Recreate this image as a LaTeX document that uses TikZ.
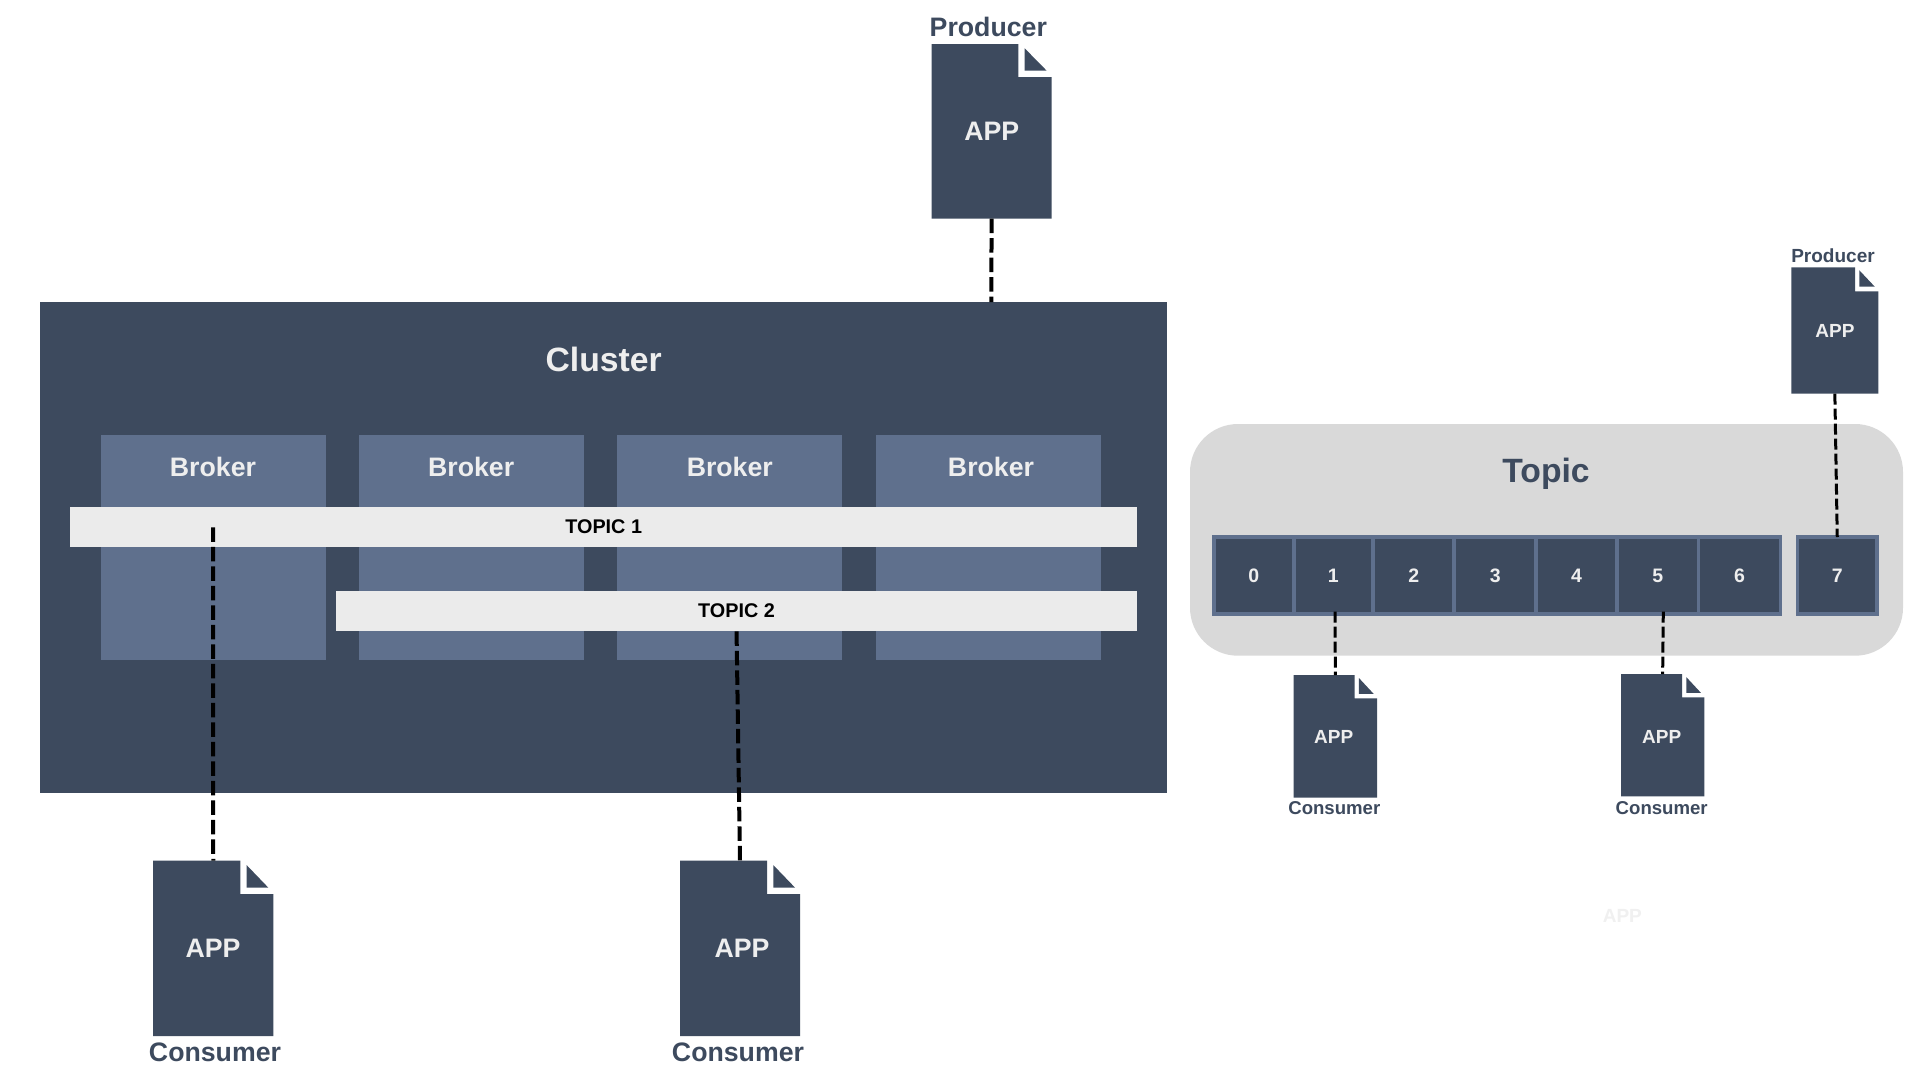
\documentclass[tikz,border=0pt]{standalone}
\usepackage{fontspec}
\setmainfont{Liberation Sans}
\definecolor{navy}{HTML}{3D4A5E}
\definecolor{slate}{HTML}{5F708D}
\definecolor{paper}{HTML}{EBEBEB}
\definecolor{ink}{HTML}{EEEEEE}
\definecolor{panel}{HTML}{D9D9D9}
\newcommand{\szfont}[1]{\fontsize{#1}{#1}\bfseries\selectfont}
\tikzset{
  box/.style={rectangle,inner sep=0pt,outer sep=0pt},
  txt/.style={inner sep=0pt,outer sep=0pt,anchor=base},
  big/.style={txt,font=\szfont{26.7}},
  small/.style={txt,font=\szfont{19}},
  smallish/.style={txt,font=\szfont{18.6}},
  huge/.style={txt,font=\szfont{33.7}},
  bigrule/.style={draw=black,line width=4pt,dash pattern=on 14.5pt off 5pt},
  smallrule/.style={draw=black,line width=3pt,dash pattern=on 11pt off 4pt},
}
% name, x1,y1,x2,y2, notch x, notch y
\newcommand{\appdoc}[7]{%
  \fill[navy] (#2,#3) -- (#6,#3) -- (#6,#7) -- (#4,#7) -- (#4,#5) -- (#2,#5) -- cycle;
  \fill[navy] ({#6+(#4-#6)*0.19},{#3+(#7-#3)*0.13}) -- ({#6+(#4-#6)*0.19},{#3+(#7-#3)*0.81}) -- ({#6+(#4-#6)*0.85},{#3+(#7-#3)*0.81}) -- cycle;
  \node[box,minimum width={#4pt-#2pt},minimum height={#5pt-#3pt}] (#1) at ({(#2+#4)/2},{(#3+#5)/2}) {};
}
\begin{document}
\begin{tikzpicture}[x=1pt,y=-1pt]
\useasboundingbox (0,0) rectangle (1920,1080);
\fill[white] (0,0) rectangle (1920,1080);

% Cluster
\node[box,fill=navy,minimum width=1126.6pt,minimum height=490.5pt] (cluster) at (603.7,547.25) {};
\node[huge,text=ink] (clustertxt) at (603.7,371) {Cluster};
\foreach \n/\c in {1/213.2,2/471.4,3/729.4,4/988.4}{
  \node[box,fill=slate,minimum width=224.8pt,minimum height=225.3pt] (b\n) at (\c,547.3) {};
}
\node[big,text=ink] (b1t) at (213,476) {Broker};
\node[big,text=ink] (b2t) at (471.2,476) {Broker};
\node[big,text=ink] (b3t) at (729.8,476) {Broker};
\node[big,text=ink] (b4t) at (991,476) {Broker};
\node[box,fill=paper,minimum width=1066.8pt,minimum height=40pt] (topicA) at (603.75,527) {};
\node[box,fill=paper,minimum width=801.1pt,minimum height=40pt] (topicB) at (736.55,611.3) {};
\node[txt,font=\szfont{19.8},text=black] (topicAt) at (603.7,533) {TOPIC 1};
\node[txt,font=\szfont{19.8},text=black] (topicBt) at (736.5,617) {TOPIC 2};

% Large apps
\appdoc{prod}{931.5}{44}{1051.7}{218.5}{1018.3}{77}
\node[big,text=navy] (prodt) at (988.3,36) {Producer};
\node[big,text=ink] (proda) at (991.7,140) {APP};
\appdoc{consA}{153.2}{860.7}{273.3}{1036}{240.3}{894}
\node[big,text=navy] (consAt) at (215,1061) {Consumer};
\node[big,text=ink] (consAa) at (213,957) {APP};
\appdoc{consB}{680}{860.7}{800}{1036}{767}{894}
\node[big,text=navy] (consBt) at (738,1061) {Consumer};
\node[big,text=ink] (consBa) at (742,957) {APP};

\coordinate (clusterin) at (991.3,302);
\coordinate (topicAin) at (213,527.3);
\draw[bigrule] (prod.south) -- (clusterin);
\draw[bigrule] (topicAin) -- (consA.north);
\draw[bigrule] (topicB.south) -- (consB.north);

% Topic panel
\node[box,fill=panel,rounded corners=48pt,minimum width=713pt,minimum height=231.7pt] (panel) at (1546.5,539.85) {};
\node[huge,text=navy] (paneltxt) at (1546,482) {Topic};
\foreach \n/\a/\b in {0/1213.9/1293.8,1/1293.8/1373,2/1373/1454.3,3/1454.3/1536,4/1536/1617.2,5/1617.2/1698.4,6/1698.4/1780.6,7/1797.5/1877}{
  \pgfmathsetmacro{\mid}{(\a+\b)/2}
  \pgfmathsetmacro{\wid}{\b-\a}
  \node[box,fill=navy,draw=slate,line width=3.7pt,minimum width=\wid pt,minimum height=77pt] (part\n) at (\mid,575.5) {};
}
\foreach \n/\c in {0/1253.7,1/1333.4,2/1413.7,3/1495.4,4/1576.6,5/1657.8,6/1739.5,7/1837.2}{
  \node[txt,font=\szfont{19.5},text=ink] (num\n) at (\c,582) {\n};
}

% Small apps
\appdoc{sprod}{1791.4}{267.3}{1878.3}{393.7}{1855}{291.3}
\node[small,text=navy] (sprodt) at (1833,262) {Producer};
\node[small,text=ink] (sproda) at (1835,337) {APP};
\appdoc{scA}{1293.7}{675}{1377}{797.7}{1354.7}{698.3}
\node[smallish,text=navy] (scAt) at (1334.3,814.5) {Consumer};
\node[small,text=ink] (scAa) at (1333.7,743.5) {APP};
\appdoc{scB}{1621}{674}{1704.3}{796.3}{1682}{697.3}
\node[smallish,text=navy] (scBt) at (1661.7,814) {Consumer};
\node[small,text=ink] (scBa) at (1661.7,743.5) {APP};
\node[small,text=black!6] (ghost) at (1622.3,922) {APP};

\coordinate (partAout) at (1335,611.7);
\coordinate (partBout) at (1663.3,611.7);
\draw[smallrule] (sprod.south) -- (part7.north);
\draw[smallrule] (partAout) -- (scA.north);
\draw[smallrule] (partBout) -- (scB.north);
\end{tikzpicture}
\end{document}
